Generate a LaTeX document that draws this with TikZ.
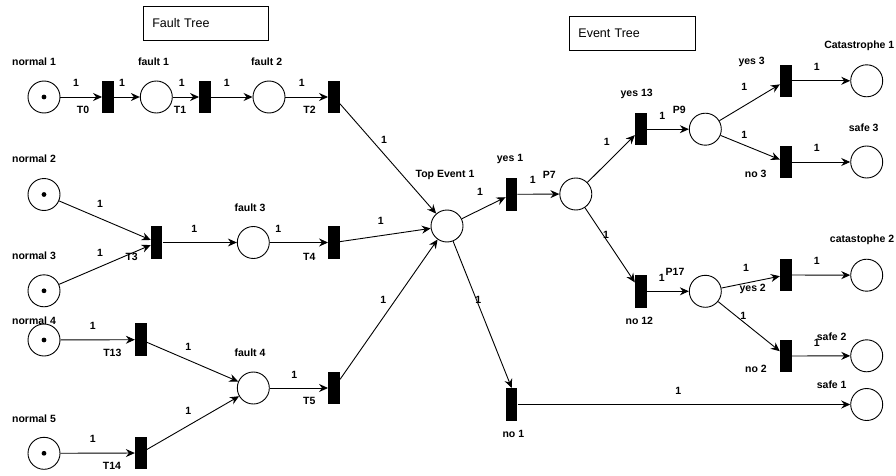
\documentclass[tikz,border=0pt]{standalone}
\usepackage{fontspec}
\setmainfont{Liberation Sans}
\usepackage{xcolor}
\usetikzlibrary{arrows.meta}
\definecolor{ink}{HTML}{000000}
\tikzset{
  place/.style={circle, draw=ink, line width=0.9pt, minimum size=32pt, inner sep=0pt},
  marked/.style={place, path picture={\fill[ink] (path picture bounding box.center) circle (2.4pt);}},
  trans/.style={rectangle, fill=ink, minimum width=11.5pt, minimum height=32.5pt, inner sep=0pt},
  arc/.style={draw=ink, line width=0.9pt, -{Stealth[length=9pt,width=8pt,inset=3pt]}},
  lab/.style={text=ink, font=\fontsize{10.5}{12}\selectfont\bfseries, inner sep=0pt},
  wt/.style={lab},
  box/.style={draw=ink, line width=0.8pt, minimum width=125.5pt, minimum height=34.5pt,
    inner xsep=9pt, text width=107.5pt, align=left, font=\fontsize{12.5}{14}\selectfont},
}
\begin{document}
\begin{tikzpicture}[x=1pt,y=-1pt]
  \useasboundingbox (0,0) rectangle (896,476);

  \node[box] (faulttree) at (206,23.3) {Fault Tree};
  \node[box] (eventtree) at (632.2,33.3) {Event Tree};

  \node[marked] (n1) at (44,97) {};
  \node[place]  (f1) at (156.3,97) {};
  \node[place]  (f2) at (269,97) {};
  \node[marked] (n2) at (44,194.5) {};
  \node[marked] (n3) at (44,290.8) {};
  \node[place]  (f3) at (253.3,242.5) {};
  \node[marked] (n4) at (44,340) {};
  \node[place]  (f4) at (253.3,388) {};
  \node[marked] (n5) at (44,453.3) {};
  \node[place]  (top) at (447,226) {};
  \node[place]  (p7) at (575.8,194) {};
  \node[place]  (p9) at (705.3,129.2) {};
  \node[place]  (p17) at (705.3,291.3) {};
  \node[place]  (cat1) at (866.7,80.8) {};
  \node[place]  (safe3) at (866.7,162) {};
  \node[place]  (cat2) at (866.7,275.2) {};
  \node[place]  (safe2) at (866.7,355.8) {};
  \node[place]  (safe1) at (866.7,404.5) {};

  \node[trans] (t0) at (108,97) {};
  \node[trans] (t1) at (205,97) {};
  \node[trans] (t2) at (334,97) {};
  \node[trans] (t3) at (156.7,242.5) {};
  \node[trans] (t4) at (334,242.5) {};
  \node[trans] (t13) at (140.8,339.7) {};
  \node[trans] (t14) at (140.8,453) {};
  \node[trans] (t5) at (334,388) {};
  \node[trans] (yes1) at (511.5,194.3) {};
  \node[trans] (yes13) at (640.8,129.2) {};
  \node[trans] (no12) at (640.8,291.3) {};
  \node[trans] (yes3) at (785.8,80.8) {};
  \node[trans] (no3) at (785.8,162) {};
  \node[trans] (yes2) at (785.8,275) {};
  \node[trans] (no2) at (785.8,356) {};
  \node[trans] (no1) at (511.7,404.5) {};

  \foreach \a/\b in {n1/t0, t0/f1, f1/t1, t1/f2, f2/t2, t2/top, n2/t3, n3/t3, t3/f3,
      f3/t4, t4/top, n4/t13, n5/t14, t13/f4, t14/f4, f4/t5, t5/top, top/yes1, yes1/p7,
      p7/yes13, p7/no12, yes13/p9, no12/p17, p9/yes3, p9/no3, p17/yes2, p17/no2,
      yes3/cat1, no3/safe3, yes2/cat2, no2/safe2, no1/safe1}
    \draw[arc] (\a) -- (\b);
  \draw[arc] (top) -- (no1.north);

  \foreach \x/\y [count=\i] in {76/83.3, 122/83, 181.7/83, 226.7/83, 301.7/83, 384/140,
      100/204.3, 100/252.7, 194.3/229.3, 278.3/229.3, 380.7/221, 92.7/325.7, 188.3/346.7,
      294.3/375, 188.3/410.7, 92.7/439, 383.3/300, 480/192.3, 532.7/180, 478.3/300,
      606.7/141.7, 662.3/116, 606/235, 661.7/278.3, 744.3/86.7, 744.3/135, 746/267.7,
      743.3/315.7, 816.7/66.7, 816.7/148.3, 816.7/261, 816.7/342.7, 678.3/391}
    \node[wt] (w\i) at (\x,\y) {1};

  \foreach \x/\y/\t [count=\i] in {34/62/normal 1, 153.5/62/fault 1, 266.7/62/fault 2,
      83/110/T0, 180/110/T1, 309.5/110/T2, 34/158.3/normal 2, 34/256/normal 3,
      250/207.3/fault 3, 131.7/256.7/T3, 309.3/256.7/T4, 34/320.7/normal 4,
      34/418.3/normal 5, 250/352.7/fault 4, 112.3/352.7/T13, 112/465.7/T14, 309.3/401/T5,
      445/175/Top Event 1, 510/159.3/yes 1, 549.3/175/P7, 636.7/94.3/yes 13, 679.3/110/P9,
      639.3/320.7/no 12, 675/271.7/P17, 751.7/61.7/yes 3, 755.7/174.3/no 3,
      859.3/46/Catastrophe 1, 863.7/127.7/safe 3, 862/240/catastophe 2, 752.7/289.3/yes 2,
      831.7/336.7/safe 2, 756/369.3/no 2, 831.7/385/safe 1, 513.3/434.3/no 1}
    \node[lab] (l\i) at (\x,\y) {\t};
\end{tikzpicture}
\end{document}
